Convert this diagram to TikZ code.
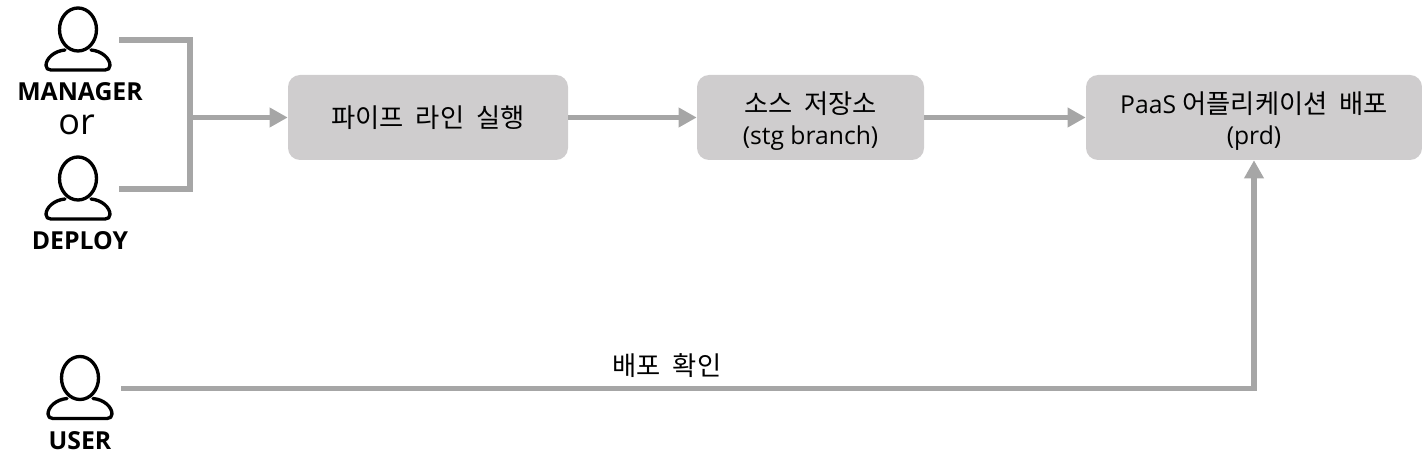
\documentclass[tikz,border=0pt]{standalone}
\usepackage{fontspec}
\setmainfont{Open Sans}
\newfontfamily\kr[WordSpace=2,Scale=1.066]{Noto Sans CJK KR}
\usetikzlibrary{arrows.meta}
\definecolor{boxgray}{HTML}{CFCDCE}
\definecolor{linegray}{HTML}{A6A6A6}
\newcommand{\firstln}{\rule{0pt}{22pt}}
\tikzset{
  stepbox/.style={fill=boxgray, rounded corners=9pt, inner sep=0pt, align=center, font=\fontsize{18.5}{23.5}\selectfont},
  flowline/.style={draw=linegray, line width=4pt},
  flowarrow/.style={flowline, -{Triangle[length=13.5pt,width=14pt]}},
  rolelabel/.style={font=\fontsize{18.6}{20}\selectfont\bfseries, inner sep=0pt},
  usericon/.pic={
    \draw[line width=2.5pt, line cap=round, line join=round] (0,0) ellipse (18.5 and 21.5);
    \draw[line width=2.5pt, line cap=round, line join=round] (-13,20.5) .. controls (-24,21.5) and (-32,29) .. (-32,36) .. controls (-32,39) and (-30,40.5) .. (-27,40.5) -- (27,40.5) .. controls (30,40.5) and (32,39) .. (32,36) .. controls (32,29) and (24,21.5) .. (13,20.5);
  }
}
\begin{document}
\begin{tikzpicture}[x=0.75pt,y=-0.75pt]
\useasboundingbox (0,0) rectangle (1422,470);
\pic at (78,29.5) {usericon};
\pic at (78,178.5) {usericon};
\pic at (80,378) {usericon};
\node[rolelabel] (manager) at (80,91.5) {MANAGER};
\node[font=\fontsize{27}{30}\selectfont, inner sep=0pt] (ortext) at (76.5,125) {or};
\node[rolelabel] (deploy) at (80,240.5) {DEPLOY};
\node[rolelabel] (user) at (80,440.5) {USER};
\node[stepbox, minimum width=210pt, minimum height=63.75pt] (pipeline) at (428,117.5) {\kr 파이프 라인 실행};
\node[stepbox, minimum width=170.25pt, minimum height=63.75pt] (repo) at (810.5,117.5) {\firstln\kr 소스 저장소\\(stg branch)};
\node[stepbox, minimum width=252pt, minimum height=63.75pt] (paas) at (1254,117.5) {\firstln PaaS {\kr 어플리케이션 배포}\\(prd)};
\node[font=\fontsize{18.5}{23}\selectfont\kr, inner sep=0pt] (confirm) at (667,366) {배포 확인};
\coordinate (mgrout) at (119,40);
\coordinate (depout) at (119,189);
\coordinate (usrout) at (121,388.5);
\coordinate (merge) at (190,117.5);
\draw[flowline, line join=miter] (mgrout) -| (merge |- depout) -- (depout);
\draw[flowarrow] (merge) -- (pipeline);
\draw[flowarrow] (pipeline) -- (repo);
\draw[flowarrow] (repo) -- (paas);
\draw[flowarrow] (usrout) -| (paas);
\end{tikzpicture}
\end{document}
